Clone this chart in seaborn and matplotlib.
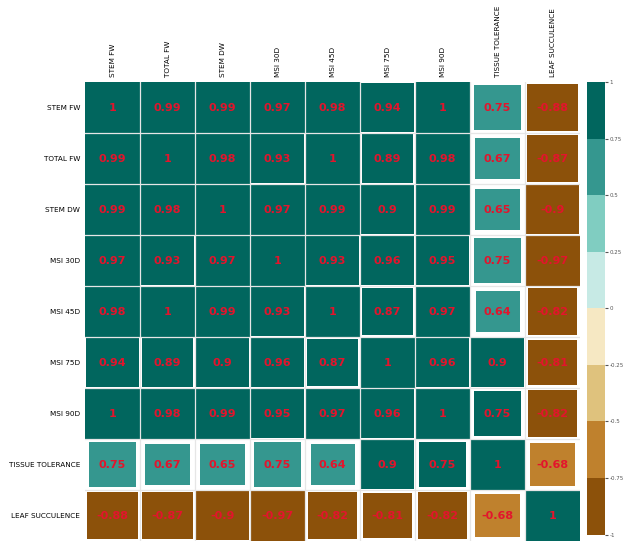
import numpy as np
import pandas as pd
import matplotlib
matplotlib.use("Agg")
import matplotlib.pyplot as plt
from matplotlib.colors import ListedColormap
from matplotlib.patches import Rectangle
from matplotlib.ticker import FuncFormatter
import seaborn as sns

labels = ["STEM FW", "TOTAL FW", "STEM DW", "MSI 30D", "MSI 45D",
          "MSI 75D", "MSI 90D", "TISSUE TOLERANCE", "LEAF SUCCULENCE"]

stem_fw = [1, 0.99, 0.99, 0.97, 0.98, 0.94, 1, 0.748, -0.88]
total_fw = [0.99, 1, 0.98, 0.93, 1, 0.89, 0.98, 0.67, -0.87]
stem_dw = [0.99, 0.98, 1, 0.97, 0.99, 0.9, 0.99, 0.65, -0.9]
msi_30d = [0.97, 0.93, 0.97, 1, 0.93, 0.96, 0.95, 0.748, -0.97]
msi_45d = [0.98, 1, 0.99, 0.93, 1, 0.87, 0.97, 0.64, -0.82]
msi_75d = [0.94, 0.89, 0.9, 0.96, 0.87, 1, 0.96, 0.9, -0.81]
msi_90d = [1, 0.98, 0.99, 0.95, 0.97, 0.96, 1, 0.752, -0.82]
tissue_tol = [0.748, 0.67, 0.65, 0.748, 0.64, 0.9, 0.752, 1, -0.68]
leaf_succ = [-0.88, -0.87, -0.9, -0.97, -0.82, -0.81, -0.82, -0.68, 1]

cbar_ticks = [-1, -0.75, -0.5, -0.25, 0, 0.25, 0.5, 0.75, 1]

corr = pd.DataFrame([stem_fw, total_fw, stem_dw, msi_30d, msi_45d,
                     msi_75d, msi_90d, tissue_tol, leaf_succ],
                    index=labels, columns=labels)

brbg = ["#8c510a", "#bf812d", "#dfc27d", "#f6e8c3",
        "#c7eae5", "#80cdc1", "#35978f", "#01665e"]
cmap = ListedColormap(brbg)

annot = corr.map(lambda v: "{:g}".format(round(v, 2)))

fig = plt.figure(figsize=(6.27, 5.41), dpi=100)
ax = fig.add_axes([0.1356, 0.0, 0.7895, 0.8484])
cax = fig.add_axes([0.936, 0.012, 0.0287, 0.8364])

sns.heatmap(corr, ax=ax, cbar_ax=cax, cmap=cmap, vmin=-1, vmax=1,
            annot=annot, fmt="",
            annot_kws={"color": "#e3142c", "fontsize": 8, "fontweight": "bold"})

# cover the full cells, draw squares scaled by |r| instead (corrplot style)
n = len(labels)
for i in range(n):
    for j in range(n):
        v = corr.iloc[i, j]
        ax.add_patch(Rectangle((j, i), 1, 1, facecolor="white",
                               edgecolor="none", zorder=1.5))
        s = np.sqrt(abs(v))
        off = (1 - s) / 2
        color = cmap(int(min((v + 1) / 2 * 8, 7.999)))
        ax.add_patch(Rectangle((j + off, i + off), s, s, facecolor=color,
                               edgecolor="none", zorder=1.6))

for k in range(1, n):
    ax.axhline(k, color="#e6e6e6", lw=0.9, zorder=2)
    ax.axvline(k, color="#e6e6e6", lw=0.9, zorder=2)

for t in ax.texts:
    t.set_zorder(3)

ax.xaxis.tick_top()
ax.set_xticklabels(labels, rotation=90, fontsize=5.2)
ax.set_yticklabels(labels, rotation=0, fontsize=5.2)
ax.tick_params(axis="both", length=0, pad=3.5)
ax.set_xlabel("")
ax.set_ylabel("")

cbar = ax.collections[0].colorbar
cbar.set_ticks(cbar_ticks)
cbar.ax.yaxis.set_major_formatter(FuncFormatter(lambda x, p: "{:g}".format(x)))
cbar.ax.tick_params(labelsize=4, length=2, pad=1.5, colors="#555555")
cbar.outline.set_visible(False)

fig.savefig("out.png", dpi=100)
